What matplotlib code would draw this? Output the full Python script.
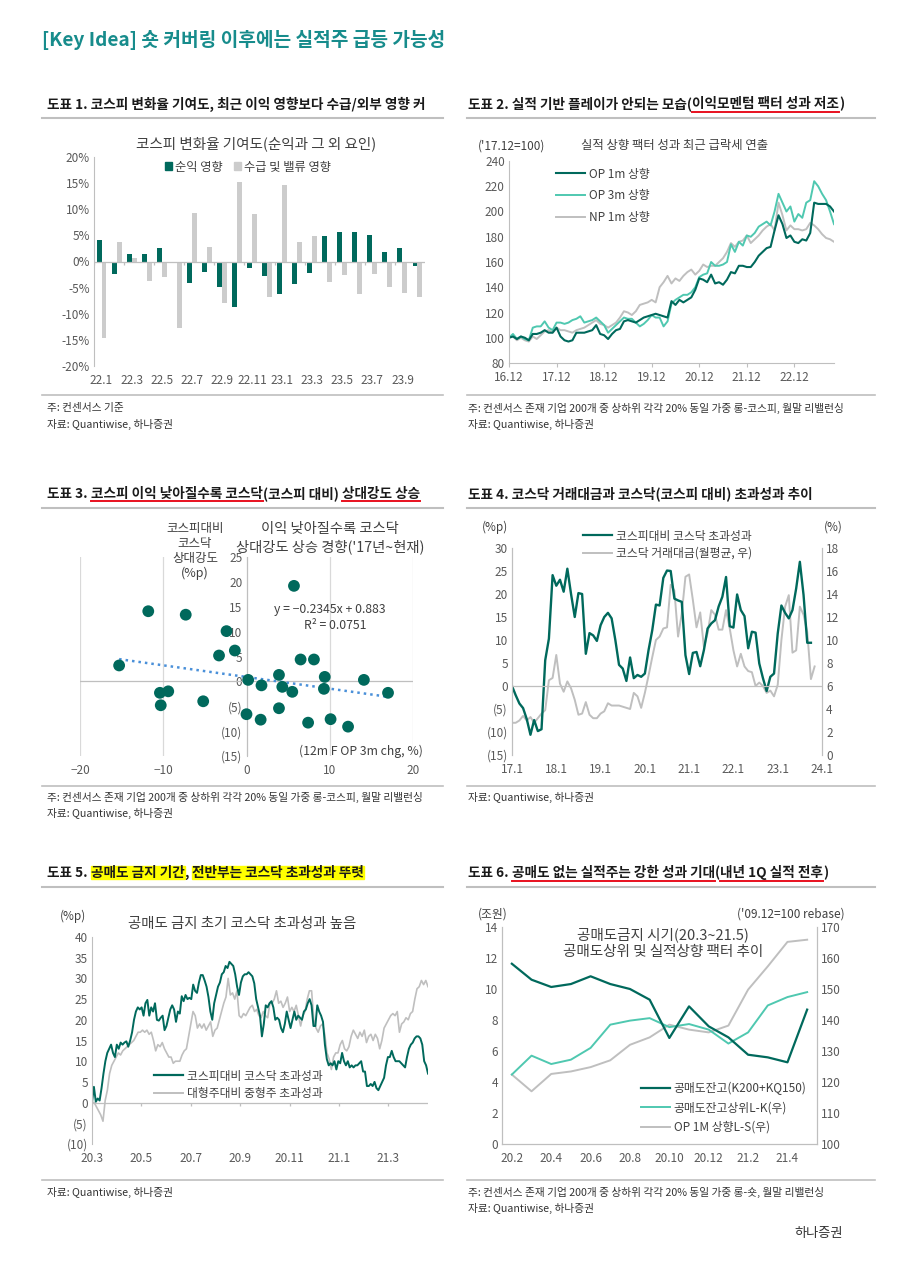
import numpy as np
import matplotlib
matplotlib.use("Agg")
import matplotlib.pyplot as plt
from matplotlib.lines import Line2D
from matplotlib.patches import Patch, Rectangle
from matplotlib.ticker import FuncFormatter

plt.rcParams['font.family'] = ['Noto Sans CJK KR', 'DejaVu Sans']
plt.rcParams['axes.unicode_minus'] = True

# --- colours ---
TEAL = '#00695c'
MINT = '#4fc8b0'
GREY = '#bfbfbf'
AXC = '#bfbfbf'
TXT = '#404040'
TICK = '#595959'

# --- chart 1: KOSPI change contribution (%), 22.1 ~ 23.10 ---
months1 = ['22.1', '22.2', '22.3', '22.4', '22.5', '22.6', '22.7', '22.8', '22.9', '22.10', '22.11',
           '22.12', '23.1', '23.2', '23.3', '23.4', '23.5', '23.6', '23.7', '23.8', '23.9', '23.10']
earn_effect = [4.1, -2.4, 1.5, 1.4, 2.6, -0.3, -4.1, -2.0, -4.9, -8.8, -1.2,
               -2.8, -6.2, -4.3, -2.2, 4.9, 5.6, 5.7, 5.1, 1.8, 2.5, -0.8]
flow_effect = [-14.7, 3.8, 0.6, -3.7, -2.9, -12.8, 9.2, 2.7, -8.0, 15.2, 9.0,
               -6.8, 14.6, 3.8, 4.8, -3.9, -2.5, -6.3, -2.3, -4.8, -6.0, -6.8]

# --- chart 2: factor performance ('17.12=100), monthly from 16.12 ---
labels2 = ['16.12', '17.12', '18.12', '19.12', '20.12', '21.12', '22.12']
op1m = [100, 101, 99, 101, 100, 98, 103, 103, 104, 106, 104, 104, 108, 101, 98, 97, 98, 104, 104, 104,
        105, 106, 110, 103, 102, 99, 103, 106, 107, 113, 114, 113, 112, 114, 116, 117, 118, 119, 118, 117,
        116, 129, 126, 130, 128, 130, 132, 138, 147, 146, 144, 150, 143, 144, 142, 146, 152, 151, 157, 157,
        156, 156, 160, 165, 168, 171, 172, 185, 197, 190, 179, 181, 176, 175, 178, 177, 183, 207, 206, 206,
        206, 204, 200]
op3m = [100, 103, 99, 101, 99, 98, 108, 109, 109, 113, 108, 106, 112, 112, 111, 112, 114, 115, 117, 112,
        113, 114, 116, 113, 110, 104, 107, 110, 113, 116, 115, 115, 112, 109, 111, 114, 118, 116, 116, 109,
        113, 127, 130, 132, 134, 134, 136, 140, 148, 150, 151, 160, 157, 157, 158, 160, 174, 168, 176, 173,
        181, 180, 183, 188, 190, 192, 189, 200, 214, 207, 200, 204, 192, 198, 195, 207, 209, 224, 220, 214,
        209, 200, 190]
np1m = [100, 101, 98, 100, 98, 97, 101, 99, 102, 105, 106, 104, 108, 106, 106, 105, 104, 106, 107, 108,
        110, 112, 114, 111, 110, 108, 110, 112, 116, 121, 120, 118, 121, 126, 127, 128, 130, 128, 140, 144,
        149, 143, 147, 145, 149, 152, 154, 150, 153, 158, 156, 157, 157, 160, 163, 168, 175, 172, 176, 177,
        181, 175, 178, 181, 185, 188, 190, 185, 207, 197, 185, 189, 186, 186, 185, 186, 191, 189, 186, 182,
        179, 178, 176]

# --- chart 3: scatter (12m F OP 3m chg %, KOSDAQ relative strength %p) ---
op_chg = [-15.3, -11.8, -7.3, -10.4, -9.4, -10.3, -5.2, -3.3, -2.4, -1.4, 0.2, 0.0, 1.8, 1.7,
          3.9, 4.3, 3.9, 5.5, 5.7, 6.5, 8.1, 7.4, 9.4, 9.3, 10.1, 12.2, 14.1, 17.0]
rel_str = [3.2, 14.1, 13.4, -2.3, -2.0, -4.8, -4.0, 5.2, 10.1, 6.2, 0.3, -6.6, -0.8, -7.7,
           1.3, -1.1, -5.4, -2.1, 19.2, 4.4, 4.4, -8.3, 0.9, -1.5, -7.6, -9.1, 0.3, -2.3]
trend_slope, trend_icpt, trend_r2 = -0.2345, 0.883, 0.0751

# --- chart 4: KOSDAQ excess return (%p) and trading value share (%), monthly from 17.1 ---
labels4 = ['17.1', '18.1', '19.1', '20.1', '21.1', '22.1', '23.1', '24.1']
kq_excess = [0, -2, -3.8, -4.8, -7.2, -10.6, -7.4, -9.8, -9.4, 5.6, 10.3, 24.1, 21.8, 23.1, 20.5, 25.5,
             20, 15, 20.2, 20, 7, 11.5, 11, 9.8, 13.2, 15, 15.9, 14.7, 10, 4.6, 3.8, 1.1, 6.2, 1.7,
             2.4, 2, 2.7, 7.8, 12.1, 17.7, 17.5, 23.5, 25.1, 25, 19, 18.6, 18.3, 6.7, 2.6, 7.2, 7.4,
             4.3, 7.8, 12.5, 13.6, 14.3, 17.3, 19.4, 23.7, 13, 12.7, 19.9, 16.5, 15.2, 8.2, 11.8,
             11.6, 4.9, 1.7, -1.1, 2, 2.7, 11.4, 17.5, 15.9, 14.7, 16.5, 21.2, 27, 19.8, 9.4, 9.4]
kq_value = [2.8, 2.8, 3.0, 3.4, 3.0, 3.3, 2.8, 3.2, 3.6, 3.9, 6.5, 6.7, 8.7, 6.2, 5.5, 6.4, 5.8, 4.8,
            3.5, 3.6, 4.6, 3.5, 3.2, 3.2, 3.6, 3.8, 4.5, 4.3, 4.3, 4.3, 4.2, 4.1, 4.0, 5.4, 5.1, 4.1,
            5.4, 6.9, 8.5, 10, 10.3, 11, 11.1, 14.8, 14.3, 10.3, 12.3, 15.5, 15.7, 13.5, 11.1, 12.4,
            9.4, 10.6, 12.6, 12.2, 10.9, 10.9, 12.6, 11, 9.1, 7.7, 8.8, 7.7, 7.3, 7.2, 6.0, 6.3, 6.0,
            5.4, 5.6, 5.1, 6.1, 10, 12.9, 13.9, 8.9, 9.1, 12.9, 12.2, 10.7, 6.6, 7.7]

# --- chart 5: short-selling ban period, daily (%p), 20.3 ~ 21.4 ---
labels5 = ['20.3', '20.5', '20.7', '20.9', '20.11', '21.1', '21.3']
kq_vs_kospi = [0, 3.8, 0.2, 1, 0.5, 3.5, 7, 10, 12, 13, 14, 12, 11, 14, 13, 14.5, 14, 14.5, 14.8, 13.5,
               15, 17, 20, 22, 23, 22.5, 23, 21, 24, 24.8, 21, 23, 22, 24, 20, 19.8, 20.5, 21, 17.5, 18.5,
               20.5, 22.5, 23.5, 22.5, 19.5, 22, 21.5, 25.7, 24.5, 26, 25, 25.3, 25, 28.5, 27, 26.5, 29,
               30.8, 30.8, 29.5, 28, 25.5, 22, 20, 24, 26, 28, 29, 31, 31.5, 33, 32.5, 34, 33.5, 33, 31,
               28, 26, 29, 30.5, 31, 31, 31.5, 31, 30.5, 28.8, 25, 23, 21, 16, 19, 23.5, 23, 24, 24.5, 23,
               20, 20.5, 20, 18, 17, 19, 22, 20, 18, 20, 22, 20, 21, 20.5, 20, 22, 22.5, 24, 25, 23.5,
               18.5, 18.5, 23.5, 22, 21, 19.5, 14, 10.5, 9, 9.5, 9, 10, 8, 10, 9.5, 12, 10, 9, 10, 8.5,
               9, 8.5, 9, 9, 9.5, 10, 7.5, 7.5, 4, 4, 4.5, 4, 5, 3.5, 3, 4, 5, 6, 9, 11, 11, 12.5, 11, 10,
               10, 10, 9.5, 9, 8.5, 11, 13, 14, 14.5, 15.5, 16, 16, 15.5, 14, 10, 9, 7]
mid_vs_large = [0, 0, -1, -2, -3, -4.5, 0.5, 3, 7, 9, 10, 11, 12, 11.5, 12.5, 13, 13.5, 14, 14.5, 15,
                16, 17, 17, 17.5, 17, 17.5, 16.5, 17, 15, 12.5, 14, 13.5, 14.5, 13, 12, 11, 11, 9.5, 10,
                10, 10, 11.5, 12.5, 13, 16, 19, 22, 21, 18, 19, 18, 19, 17.5, 18.5, 19.5, 16, 17.5, 18,
                20, 22, 24, 25.5, 30, 26, 26.5, 25, 27, 21, 20.5, 21.5, 21, 22, 23, 23.5, 22, 22.5, 21,
                20.5, 22, 21, 20.5, 24, 24, 25, 27, 24, 24.5, 23, 24, 25.5, 22, 23, 22, 23.5, 21, 18.5,
                21, 22, 25, 27, 27, 20, 18, 17, 18.5, 19, 16.5, 12, 10.5, 8, 11, 12, 12, 14, 15, 13,
                12.5, 13.5, 16, 17.5, 16.5, 15.5, 17, 16, 17.5, 14.5, 16, 16.5, 15, 16.5, 15.5, 13, 15,
                18, 19, 20, 21, 21.5, 21, 22, 17, 19, 19.5, 20.5, 20, 21.5, 22, 25, 27.5, 28, 29.5, 28.5,
                29.5, 28]
span5 = 13.6  # months covered by the daily series

# --- chart 6: short balance (조원) and factors ('09.12=100), monthly 20.2 ~ 21.5 ---
months6 = ['20.2', '20.3', '20.4', '20.5', '20.6', '20.7', '20.8', '20.9', '20.10', '20.11',
           '20.12', '21.1', '21.2', '21.3', '21.4', '21.5']
short_bal = [11.63, 10.6, 10.13, 10.32, 10.82, 10.32, 10.0, 9.31, 6.84, 8.88, 7.59, 6.88, 5.76, 5.59, 5.27, 8.67]
short_lk = [122.4, 128.5, 125.8, 127.2, 131.0, 138.5, 139.8, 140.6, 137.7, 138.7, 136.9, 132.4, 136.0, 144.7, 147.4, 149.0]
op_ls = [122.4, 117.0, 122.6, 123.4, 124.8, 127.0, 132.0, 134.4, 138.5, 136.9, 136.0, 138.2, 149.8, 157.3, 165.2, 165.9]

W, H = 900, 1264
fig = plt.figure(figsize=(W / 100, H / 100), dpi=100)
renderer = fig.canvas.get_renderer()

HSIZE = 9.8   # header font size
LEG = dict(frameon=False, fontsize=8.5, handlelength=2.5, handletextpad=0.3, labelcolor=TXT)


def rect(x0, y0, x1, y1):
    return [x0 / W, 1 - y1 / H, (x1 - x0) / W, (y1 - y0) / H]


def ftext(x, y, s, **kw):
    kw.setdefault('color', TXT)
    kw.setdefault('va', 'center')
    return fig.text(x / W, 1 - y / H, s, **kw)


def hline(x0, x1, y, color=AXC, lw=1.2):
    fig.add_artist(Line2D([x0 / W, x1 / W], [1 - y / H, 1 - y / H], color=color, lw=lw))


def paren(v, pos):
    v = int(round(v))
    return f'({-v})' if v < 0 else f'{v}'


# width of a blank in header font
_a = fig.text(0, 0, '가 가', fontsize=HSIZE, fontweight='bold')
_b = fig.text(0, 0, '가가', fontsize=HSIZE, fontweight='bold')
SPACE = _a.get_window_extent(renderer).width - _b.get_window_extent(renderer).width
_a.remove()
_b.remove()


def header(x, y, parts):
    for txt, style in parts:
        if txt.startswith(' '):
            x += SPACE
            txt = txt[1:]
        t = ftext(x, y, txt, fontsize=HSIZE, fontweight='bold', color='#1a1a1a', ha='left', zorder=5)
        bb = t.get_window_extent(renderer)
        if style == 'u':
            fig.add_artist(Line2D([bb.x0 / W, bb.x1 / W], [(bb.y0 - 0.5) / H] * 2, color='#e8101e', lw=1.4))
        elif style == 'h':
            fig.add_artist(Rectangle((bb.x0 / W, (bb.y0 + 1) / H), bb.width / W, (bb.height - 1) / H,
                                     transform=fig.transFigure, color='#ffff00', zorder=1))
        x = bb.x1


def style_ticks(ax):
    ax.tick_params(axis='both', labelsize=8.5, labelcolor=TICK, length=0, pad=3)


# ---------- page title ----------
ftext(42, 40, '[Key Idea] 숏 커버링 이후에는 실적주 급등 가능성', fontsize=13.8, fontweight='bold',
      color='#178c8c', ha='left')

# ---------- headers ----------
header(47, 104, [('도표 1. 코스피 변화율 기여도, 최근 이익 영향보다 수급/외부 영향 커', None)])
header(468, 104, [('도표 2. 실적 기반 플레이가 안되는 모습(', None), ('이익모멘텀 팩터 성과 저조', 'u'), (')', None)])
header(47, 494, [('도표 3.', None), (' 코스피 이익 낮아질수록 코스닥', 'u'), ('(코스피 대비)', None), (' 상대강도 상승', 'u')])
header(468, 494, [('도표 4. 코스닥 거래대금과 코스닥(코스피 대비) 초과성과 추이', None)])
header(47, 873, [('도표 5.', None), (' 공매도 금지 기간', 'h'), (',', None), (' 전반부는 코스닥 초과성과 뚜렷', 'h')])
header(468, 873, [('도표 6.', None), (' 공매도 없는 실적주는 강한 성과 기대', 'u'), ('(', None), ('내년 1Q 실적 전후', 'u'), (')', None)])
for yy in (118, 508, 887):
    hline(42, 443, yy, lw=1.5)
    hline(467, 875, yy, lw=1.5)

# ---------- chart 1 ----------
ax1 = fig.add_axes(rect(94, 157, 425, 366))
x1 = np.arange(len(months1))
ax1.bar(x1 - 0.165, earn_effect, width=0.33, color=TEAL)
ax1.bar(x1 + 0.165, flow_effect, width=0.33, color='#cccccc')
ax1.axhline(0, color=AXC, lw=0.9)
ax1.vlines(x1[::2] - 0.5, -0.7, 0, color=AXC, lw=0.9)
ax1.set_xlim(-0.5, len(months1) - 0.5)
ax1.set_ylim(-20, 20)
ax1.set_yticks(range(-20, 21, 5))
ax1.yaxis.set_major_formatter(FuncFormatter(lambda v, p: f'{int(v)}%'))
ax1.set_xticks(x1[::2])
ax1.set_xticklabels(months1[::2])
for s in ('top', 'right', 'bottom'):
    ax1.spines[s].set_visible(False)
ax1.spines['left'].set_color(AXC)
style_ticks(ax1)
ax1.tick_params(axis='x', pad=6)
ftext(256, 144, '코스피 변화율 기여도(순익과 그 외 요인)', fontsize=10.5, ha='center')
fig.legend(handles=[Patch(color=TEAL), Patch(color='#cccccc')], labels=['순익 영향', '수급 및 밸류 영향'],
           loc='center', bbox_to_anchor=(248 / W, 1 - 167 / H), ncol=2, frameon=False, fontsize=8.8,
           handlelength=0.55, handleheight=0.55, handletextpad=0.2, columnspacing=1.0, labelcolor=TXT)

# ---------- chart 2 ----------
ax2 = fig.add_axes(rect(509, 161, 834, 363))
x2 = np.arange(len(op1m))
ax2.plot(x2, np1m, color=GREY, lw=1.4, label='NP 1m 상향')
ax2.plot(x2, op3m, color=MINT, lw=1.4, label='OP 3m 상향')
ax2.plot(x2, op1m, color=TEAL, lw=1.5, label='OP 1m 상향')
ax2.set_xlim(0, len(op1m) - 1)
ax2.set_ylim(80, 240)
ax2.set_yticks(range(80, 241, 20))
ax2.set_xticks(np.arange(len(labels2)) * 12)
ax2.set_xticklabels(labels2)
for s in ('top', 'right'):
    ax2.spines[s].set_visible(False)
for s in ('left', 'bottom'):
    ax2.spines[s].set_color(AXC)
style_ticks(ax2)
ax2.tick_params(axis='x', length=3, color=AXC, pad=3)
h, l = ax2.get_legend_handles_labels()
ax2.legend(h[::-1], l[::-1], loc='upper left', bbox_to_anchor=((545 - 509) / 325, 1 + 4 / 202),
           labelspacing=0.75, **LEG)
ftext(675, 146, '실적 상향 팩터 성과 최근 급락세 연출', fontsize=8.9, ha='center')
ftext(512, 146, "('17.12=100)", fontsize=8.5, ha='center')

# ---------- chart 3 ----------
ax3 = fig.add_axes(rect(80, 557, 413, 756))
ax3.set_xlim(-20, 20)
ax3.set_ylim(-15, 25)
ax3.set_xticks(range(-20, 21, 10))
ax3.set_yticks(range(-15, 26, 5))
ax3.grid(axis='x', color='#d9d9d9', lw=0.9)
ax3.axhline(0, color=AXC, lw=0.9)
ax3.yaxis.set_major_formatter(FuncFormatter(paren))
for s in ('top', 'right', 'bottom'):
    ax3.spines[s].set_visible(False)
ax3.spines['left'].set_position(('data', 0))
ax3.spines['left'].set_color(AXC)
ax3.set_axisbelow(True)
style_ticks(ax3)
ax3.tick_params(axis='x', pad=6)
ax3.scatter(op_chg, rel_str, s=72, color=TEAL, zorder=3, edgecolors='none')
tx = np.array([min(op_chg), max(op_chg)])
ax3.plot(tx, trend_slope * tx + trend_icpt, color='#4a90d9', lw=1.8, ls=(0, (1, 1.6)), zorder=2)
ftext(195, 551, '코스피대비\n코스닥\n상대강도\n(%p)', fontsize=9, ha='center', linespacing=1.2)
ftext(330, 538, "이익 낮아질수록 코스닥\n상대강도 상승 경향('17년~현재)", fontsize=10.3, ha='center', linespacing=1.25)
ftext(330, 609, f'y = {trend_slope:.4f}x + {trend_icpt:.3f}'.replace('-', '−'), fontsize=8.8, ha='center')
ftext(335, 625, f'R² = {trend_r2:.4f}', fontsize=8.8, ha='center')
ftext(423, 751, '(12m F OP 3m chg, %)', fontsize=8.8, ha='right')

# ---------- chart 4 ----------
ax4 = fig.add_axes(rect(512, 548, 822, 755))
ax4r = ax4.twinx()
x4a = np.arange(len(kq_excess))
x4b = np.arange(len(kq_value))
ax4r.plot(x4b, kq_value, color=GREY, lw=1.4)
ax4.plot(x4a, kq_excess, color=TEAL, lw=1.7)
ax4.set_zorder(ax4r.get_zorder() + 1)
ax4.patch.set_visible(False)
ax4.axhline(0, color=AXC, lw=0.9)
ax4.set_xlim(0, 84)
ax4.set_ylim(-15, 30)
ax4r.set_ylim(0, 18)
ax4.set_yticks(range(-15, 31, 5))
ax4r.set_yticks(range(0, 19, 2))
ax4.yaxis.set_major_formatter(FuncFormatter(paren))
ax4.set_xticks(np.arange(len(labels4)) * 12)
ax4.set_xticklabels(labels4)
for a in (ax4, ax4r):
    for s in ('top', 'bottom'):
        a.spines[s].set_visible(False)
    for s in ('left', 'right'):
        a.spines[s].set_color(AXC)
    style_ticks(a)
ax4.tick_params(axis='x', pad=6)
fig.legend(handles=[Line2D([], [], color=TEAL, lw=1.6), Line2D([], [], color=GREY, lw=1.4)],
           labels=['코스피대비 코스닥 초과성과', '코스닥 거래대금(월평균, 우)'], loc='upper left',
           bbox_to_anchor=(572 / W, 1 - 519 / H), labelspacing=0.35, **LEG)
ftext(495, 527, '(%p)', fontsize=8.5, ha='center')
ftext(833, 527, '(%)', fontsize=8.5, ha='center')

# ---------- chart 5 ----------
ax5 = fig.add_axes(rect(92, 937, 428, 1144))
x5a = np.linspace(0, span5, len(kq_vs_kospi))
x5b = np.linspace(0, span5, len(mid_vs_large))
ax5.plot(x5b, mid_vs_large, color=GREY, lw=1.2)
ax5.plot(x5a, kq_vs_kospi, color=TEAL, lw=1.4)
ax5.axhline(0, color=AXC, lw=0.9)
t5 = np.arange(len(labels5)) * 2
ax5.vlines(t5, -0.9, 0, color=AXC, lw=0.9)
ax5.set_xlim(0, span5)
ax5.set_ylim(-10, 40)
ax5.set_yticks(range(-10, 41, 5))
ax5.yaxis.set_major_formatter(FuncFormatter(paren))
ax5.set_xticks(t5)
ax5.set_xticklabels(labels5)
for s in ('top', 'right', 'bottom'):
    ax5.spines[s].set_visible(False)
ax5.spines['left'].set_color(AXC)
style_ticks(ax5)
ax5.tick_params(axis='x', pad=6)
fig.legend(handles=[Line2D([], [], color=TEAL, lw=1.6), Line2D([], [], color=GREY, lw=1.4)],
           labels=['코스피대비 코스닥 초과성과', '대형주대비 중형주 초과성과'], loc='upper left',
           bbox_to_anchor=(143 / W, 1 - 1059 / H), labelspacing=0.35, **LEG)
ftext(242, 924, '공매도 금지 초기 코스닥 초과성과 높음', fontsize=10.4, ha='center')
ftext(73, 916, '(%p)', fontsize=8.5, ha='center')

# ---------- chart 6 ----------
ax6 = fig.add_axes(rect(502, 927, 817, 1144))
ax6r = ax6.twinx()
x6 = np.arange(len(months6))
ax6r.plot(x6, op_ls, color=GREY, lw=1.4)
ax6r.plot(x6, short_lk, color=MINT, lw=1.4)
ax6.plot(x6, short_bal, color=TEAL, lw=1.6)
ax6.set_zorder(ax6r.get_zorder() + 1)
ax6.patch.set_visible(False)
ax6.set_xlim(-0.5, len(months6) - 0.5)
ax6.set_ylim(0, 14)
ax6r.set_ylim(100, 170)
ax6.set_yticks(range(0, 15, 2))
ax6r.set_yticks(range(100, 171, 10))
ax6.set_xticks(x6[::2])
ax6.set_xticklabels(months6[::2])
for a in (ax6, ax6r):
    a.spines['top'].set_visible(False)
    for s in ('left', 'right', 'bottom'):
        a.spines[s].set_color(AXC)
    style_ticks(a)
ax6.tick_params(axis='x', pad=6)
fig.legend(handles=[Line2D([], [], color=TEAL, lw=1.6), Line2D([], [], color=MINT, lw=1.4),
                    Line2D([], [], color=GREY, lw=1.4)],
           labels=['공매도잔고(K200+KQ150)', '공매도잔고상위L-K(우)', 'OP 1M 상향L-S(우)'], loc='upper left',
           bbox_to_anchor=(630 / W, 1 - 1071 / H), labelspacing=0.55, **LEG)
ftext(663, 943, '공매도금지 시기(20.3~21.5)\n공매도상위 및 실적상향 팩터 추이', fontsize=10.5, ha='center', linespacing=1.25)
ftext(493, 914, '(조원)', fontsize=8.5, ha='center')
ftext(845, 914, "('09.12=100 rebase)", fontsize=8.5, ha='right')

# ---------- footnotes ----------
for yy in (395, 786, 1180):
    hline(42, 443, yy)
    hline(467, 875, yy)
FN = dict(fontsize=7.7, ha='left', color='#333333')
ftext(47, 408, '주: 컨센서스 기준', **FN)
ftext(47, 424, '자료: Quantiwise, 하나증권', **FN)
ftext(468, 408, '주: 컨센서스 존재 기업 200개 중 상하위 각각 20% 동일 가중 롱-코스피, 월말 리밸런싱', **FN)
ftext(468, 424, '자료: Quantiwise, 하나증권', **FN)
ftext(47, 797, '주: 컨센서스 존재 기업 200개 중 상하위 각각 20% 동일 가중 롱-코스피, 월말 리밸런싱', **FN)
ftext(47, 813, '자료: Quantiwise, 하나증권', **FN)
ftext(468, 797, '자료: Quantiwise, 하나증권', **FN)
ftext(47, 1192, '자료: Quantiwise, 하나증권', **FN)
ftext(468, 1192, '주: 컨센서스 존재 기업 200개 중 상하위 각각 20% 동일 가중 롱-숏, 월말 리밸런싱', **FN)
ftext(468, 1208, '자료: Quantiwise, 하나증권', **FN)
ftext(843, 1233, '하나증권', fontsize=9.5, ha='right', color='#333333')

fig.savefig('out.png', dpi=100, facecolor='white')
